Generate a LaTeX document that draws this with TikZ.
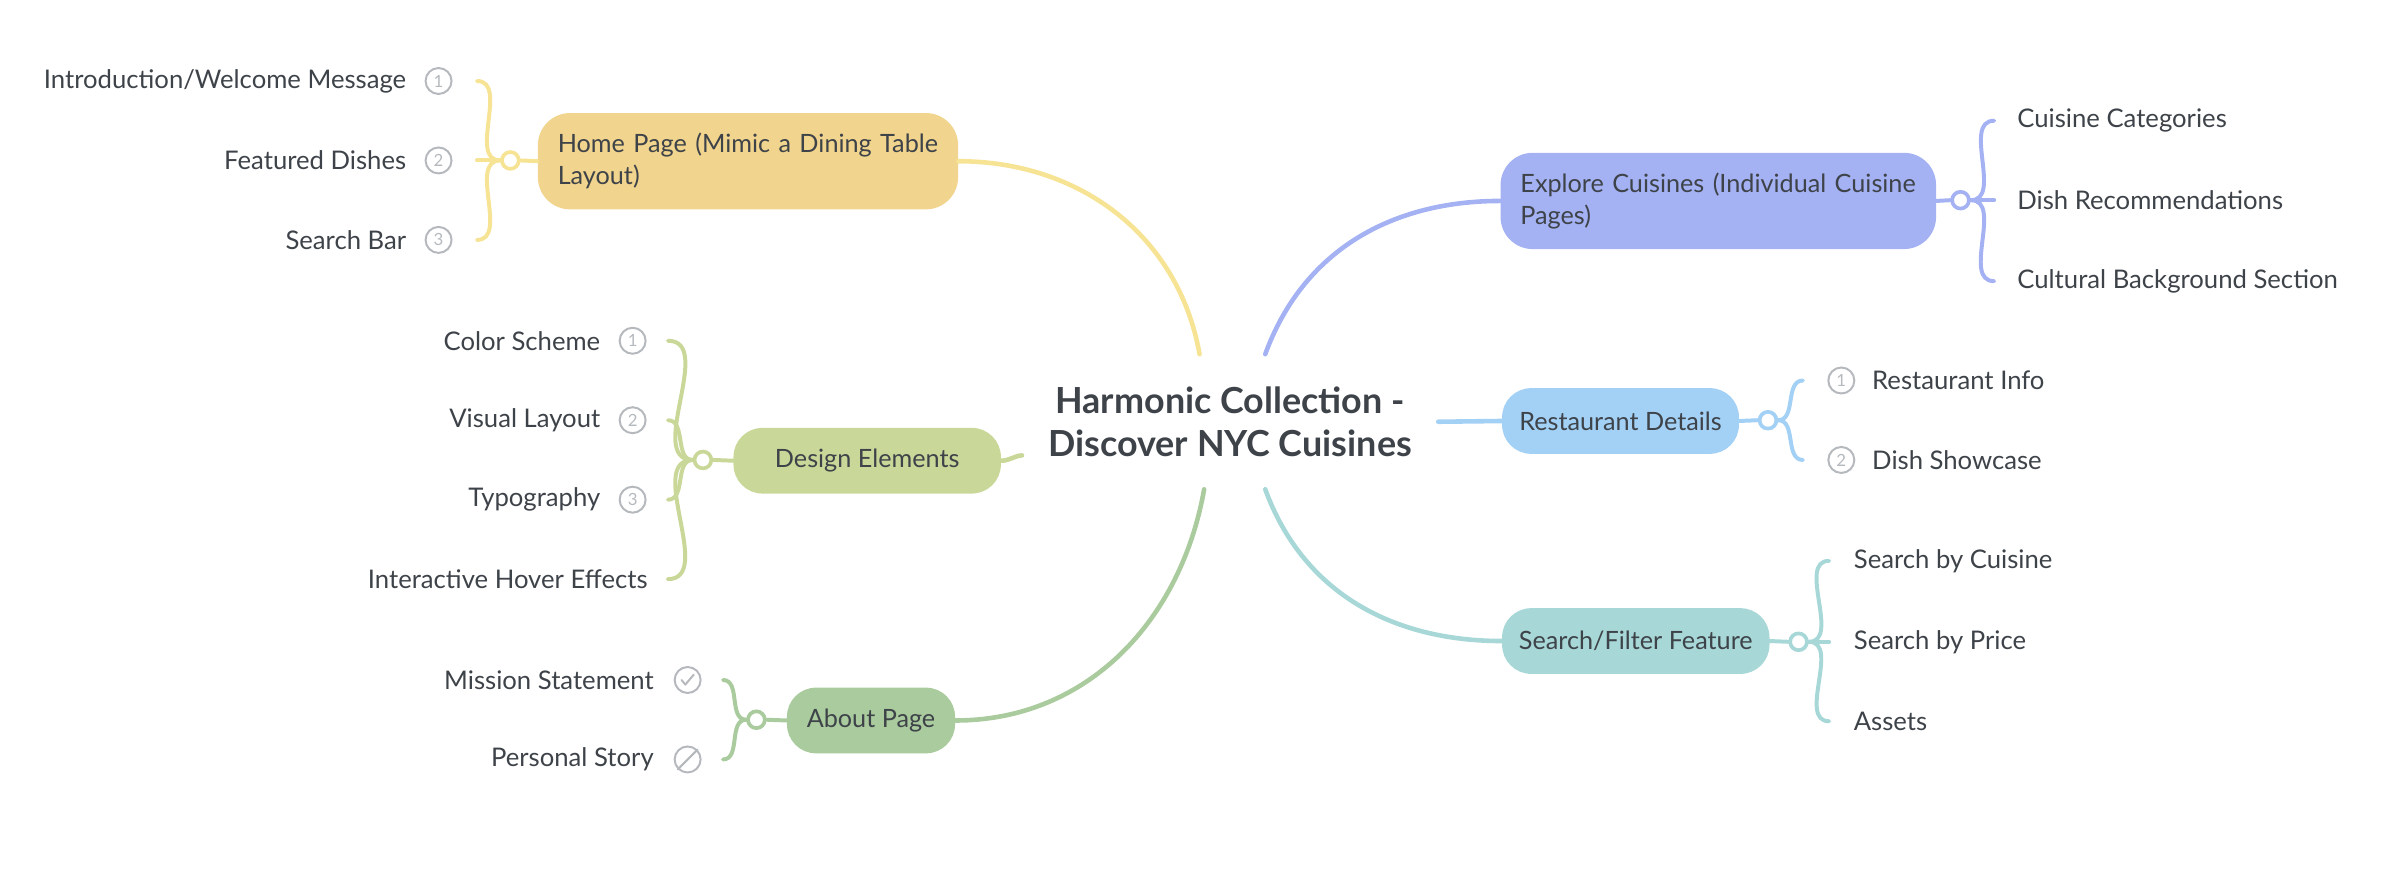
\documentclass[tikz,border=0pt]{standalone}
\usepackage{fontspec}
\setmainfont{Lato}
\usepackage{tikz}

\definecolor{txt}{HTML}{3E4349}
\definecolor{icon}{HTML}{B5B9BD}
\definecolor{home_f}{HTML}{F1D48D}
\definecolor{home_l}{HTML}{F6E394}
\definecolor{explore_f}{HTML}{A4B2F3}
\definecolor{rest_f}{HTML}{A3D0F5}
\definecolor{search_f}{HTML}{A7D7D7}
\definecolor{design_f}{HTML}{C9D899}
\definecolor{about_f}{HTML}{A9CB9D}

\begin{document}
\begin{tikzpicture}[x=1pt,y=-1pt,
    root_block/.style ={rectangle, text=txt, align=center,
      font=\fontsize{23.5}{28}\selectfont\bfseries,
      minimum width=272pt, minimum height=88pt},
    topic_one/.style ={rectangle, rounded corners=19pt, text=txt,
      font=\fontsize{16.5}{21}\selectfont, minimum height=43pt},
    topic_two/.style ={rectangle, rounded corners=21pt, text=txt,
      font=\fontsize{16.5}{21}\selectfont, align=left, inner xsep=13pt,
      minimum height=63pt},
    leaf/.style ={text=txt, font=\fontsize{16.8}{20}\selectfont, inner sep=0pt},
    num/.style ={circle, draw=icon, line width=1.3pt, text=icon, inner sep=0pt,
      minimum size=17pt, font=\fontsize{11}{11}\selectfont},
    joint/.style ={circle, fill=white, line width=2.4pt, inner sep=0pt,
      minimum size=11pt},
    line/.style ={draw, line width=3pt, line cap=round},
    twig/.style ={draw, line width=2.6pt, line cap=round}]
    \useasboundingbox (0,0) rectangle (1568,581);
    % centre topic
    \node[root_block] (root) at (805,276) {Harmonic Collection -\\Discover NYC Cuisines};

    % main topics - left
    \node[topic_two, fill=home_f, text width=249pt] (home) at (489.5,105.5)
      {Home Page (Mimic a Dining Table\\Layout)};
    \node[topic_one, fill=design_f, minimum width=175pt] (design) at (567.5,301.5) {Design Elements};
    \node[topic_one, fill=about_f, minimum width=110pt] (about) at (570,471.5) {About Page};
    % main topics - right
    \node[topic_two, fill=explore_f, text width=259pt] (explore) at (1124.5,131.5)
      {Explore Cuisines (Individual Cuisine\\Pages)};
    \node[topic_one, fill=rest_f, minimum width=155pt] (rest) at (1060.5,275.5) {Restaurant Details};
    \node[topic_one, fill=search_f, minimum width=175pt] (search) at (1070.5,419.5) {Search/Filter Feature};

    % connectors from the centre
    \path[line, home_l] ([xshift=-20pt]root.north) to[out=100, in=0] (home.east);
    \path[line, design_f] ([yshift=-22pt]root.west) to[out=185, in=0] (design.east);
    \path[line, about_f] ([xshift=-17pt]root.south) to[out=-100, in=0] (about.east);
    \path[line, explore_f] ([xshift=23pt]root.north) to[out=70, in=180] (explore.west);
    \path[line, rest_f] (root.east) -- (rest.west);
    \path[line, search_f] ([xshift=23pt]root.south) to[out=-70, in=180] (search.west);

    % home page - leaves
    \node[joint, draw=home_l] (home_j) at (334,105) {};
    \path[twig, home_l] (home.west) -- (home_j.east);
    \foreach \y/\n/\t [count=\i] in {53/1/{Introduction/Welcome Message}, 105/2/Featured Dishes, 157/3/Search Bar} {
      \node[num] (home_n\i) at (287,\y) {\n};
      \node[leaf, anchor=east] (home_l\i) at (266,\y) {\t};
      \coordinate (home_e\i) at ([xshift=16pt]home_n\i.east);
      \path[twig, home_l] (home_j.west) to[out=180, in=0] (home_e\i);
    }

    % design elements - leaves
    \node[joint, draw=design_f] (design_j) at (460,301) {};
    \path[twig, design_f] (design.west) -- (design_j.east);
    \foreach \y/\n/\t [count=\i] in {223/1/Color Scheme, 275/2/Visual Layout, 327/3/Typography} {
      \node[num] (design_n\i) at (414,\y) {\n};
      \node[leaf, anchor=east] (design_l\i) at (393,\y) {\t};
      \coordinate (design_e\i) at ([xshift=14pt]design_n\i.east);
      \path[twig, design_f] (design_j.west) to[out=180, in=0] (design_e\i);
    }
    \node[leaf, anchor=east] (design_l4) at (424,379) {Interactive Hover Effects};
    \coordinate (design_e4) at (437,379);
    \path[twig, design_f] (design_j.west) to[out=180, in=0] (design_e4);

    % about page - leaves
    \node[joint, draw=about_f] (about_j) at (495,471) {};
    \path[twig, about_f] (about.west) -- (about_j.east);
    \node[num] (about_n1) at (450,445) {};
    \node[num] (about_n2) at (450,497) {};
    \draw[icon, line width=1.3pt, line cap=round, line join=round]
      ([shift={(-4pt,0pt)}]about_n1.center) -- ++(2.5pt,-3pt) -- ++(5.5pt,6.5pt);
    \draw[icon, line width=1.3pt, line cap=round]
      (about_n2.south west) -- (about_n2.north east);
    \node[leaf, anchor=east] (about_l1) at (428,445) {Mission Statement};
    \node[leaf, anchor=east] (about_l2) at (428,497) {Personal Story};
    \coordinate (about_e1) at ([xshift=14pt]about_n1.east);
    \coordinate (about_e2) at ([xshift=14pt]about_n2.east);
    \path[twig, about_f] (about_j.west) to[out=180, in=0] (about_e1);
    \path[twig, about_f] (about_j.west) to[out=180, in=0] (about_e2);

    % explore cuisines - leaves
    \node[joint, draw=explore_f] (explore_j) at (1283,131) {};
    \path[twig, explore_f] (explore.east) -- (explore_j.west);
    \foreach \y/\t [count=\i] in {79/Cuisine Categories, 131/Dish Recommendations, 184/Cultural Background Section} {
      \node[leaf, anchor=west] (explore_l\i) at (1320,\y) {\t};
      \coordinate (explore_e\i) at ([xshift=-15pt]explore_l\i.west);
      \path[twig, explore_f] (explore_j.east) to[out=0, in=180] (explore_e\i);
    }

    % restaurant details - leaves
    \node[joint, draw=rest_f] (rest_j) at (1157,275) {};
    \path[twig, rest_f] (rest.east) -- (rest_j.west);
    \foreach \y/\n/\t [count=\i] in {249/1/Restaurant Info, 301/2/Dish Showcase} {
      \node[num] (rest_n\i) at (1205,\y) {\n};
      \node[leaf, anchor=west] (rest_l\i) at (1225,\y) {\t};
      \coordinate (rest_e\i) at ([xshift=-16pt]rest_n\i.west);
      \path[twig, rest_f] (rest_j.east) to[out=0, in=180] (rest_e\i);
    }

    % search/filter feature - leaves
    \node[joint, draw=search_f] (search_j) at (1177,420) {};
    \path[twig, search_f] (search.east) -- (search_j.west);
    \foreach \y/\t [count=\i] in {367/Search by Cuisine, 420/Search by Price, 472/Assets} {
      \node[leaf, anchor=west] (search_l\i) at (1213,\y) {\t};
      \coordinate (search_e\i) at ([xshift=-16pt]search_l\i.west);
      \path[twig, search_f] (search_j.east) to[out=0, in=180] (search_e\i);
    }
\end{tikzpicture}
\end{document}
